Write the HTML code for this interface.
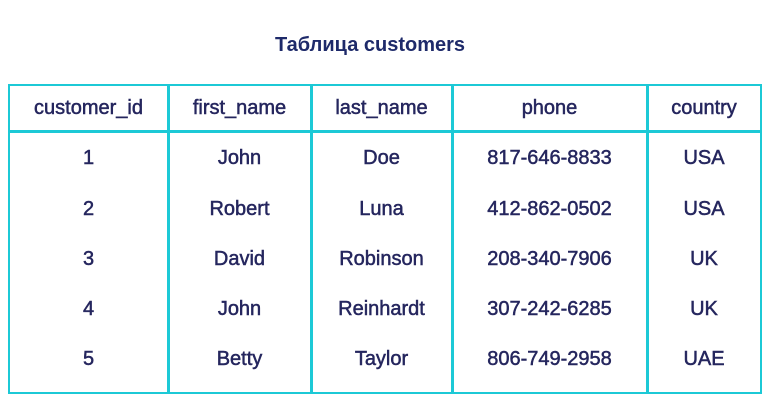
<!DOCTYPE html>
<html><head><meta charset="utf-8"><style>
body{margin:0;width:768px;height:404px;background:#fff;position:relative;overflow:hidden;font-family:"Liberation Sans","DejaVu Sans",sans-serif;color:#25265e}
.t{position:absolute;left:-14px;width:768px;top:34px;text-align:center;font-size:20px;font-weight:bold;color:#1e2a6a}
.box{position:absolute;left:8px;top:84px;width:750px;height:306px;border:2.5px solid #1cc9d6}
.v{position:absolute;top:84px;height:309px;width:2.5px;background:#1cc9d6}
.h{position:absolute;left:8px;top:130px;width:753px;height:2.5px;background:#1cc9d6}
.c{position:absolute;text-align:center;font-size:20px;line-height:24px;transform:translateY(-50%);-webkit-text-stroke:0.5px #25265e}
</style></head><body>
<div class="t">Таблица customers</div>
<div class="box"></div>
<div class="v" style="left:167px"></div>
<div class="v" style="left:310px"></div>
<div class="v" style="left:451px"></div>
<div class="v" style="left:646px"></div>
<div class="h"></div>
<div id="cells"></div>
<script>
const cols=[[10,167],[169,310],[312,451],[453,646],[648,760]];
const header=["customer_id","first_name","last_name","phone","country"];
const rows=[["1","John","Doe","817-646-8833","USA"],["2","Robert","Luna","412-862-0502","USA"],["3","David","Robinson","208-340-7906","UK"],["4","John","Reinhardt","307-242-6285","UK"],["5","Betty","Taylor","806-749-2958","UAE"]];
const ys=[108,158,209,259,309,359];
const host=document.getElementById('cells');
[header,...rows].forEach((r,ri)=>r.forEach((txt,ci)=>{
 const d=document.createElement('div');d.className='c';
 d.style.left=cols[ci][0]+'px';d.style.width=(cols[ci][1]-cols[ci][0])+'px';d.style.top=ys[ri]+'px';
 d.textContent=txt;
 
 
 host.appendChild(d);
}));
</script>
</body></html>
